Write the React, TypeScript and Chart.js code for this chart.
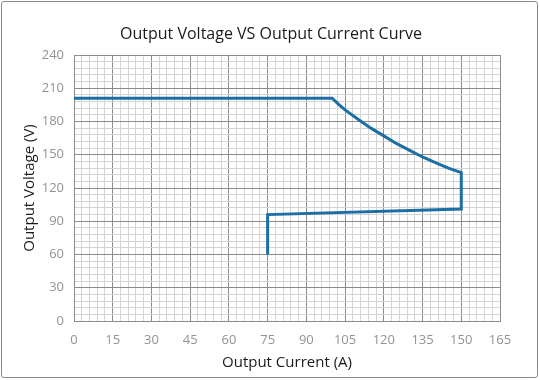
import React, { useEffect, useRef } from "react";
import { Chart, registerables } from "chart.js";

Chart.register(...registerables);

const currentA = [0, 100, 102.5, 105, 110, 115, 120, 125, 130, 135, 140, 145, 150, 150, 75, 75];
const voltageV = [201, 201, 195.5, 190.5, 182, 174, 167, 160, 154, 148, 143, 138, 134, 101, 96, 60];

const xMajorTicks = [0, 15, 30, 45, 60, 75, 90, 105, 120, 135, 150, 165];
const yMajorTicks = [0, 30, 60, 90, 120, 150, 180, 210, 240];

const titleText = "Output Voltage VS Output Current Curve";
const xTitle = "Output Current (A)";
const yTitle = "Output Voltage (V)";

const titlePlugin = {
  id: "centerTitle",
  afterDraw(chart: any) {
    const ctx = chart.ctx;
    ctx.save();
    ctx.font = "16px 'Open Sans', sans-serif";
    ctx.fillStyle = "#1a1a1a";
    ctx.textAlign = "center";
    ctx.textBaseline = "middle";
    ctx.fillText(titleText, 271, 34);
    ctx.restore();
  },
};

export default function App() {
  const ref = useRef<HTMLCanvasElement | null>(null);

  useEffect(() => {
    if (!ref.current) return;
    const points = currentA.map((x, i) => ({ x, y: voltageV[i] }));
    const major = "#8c8c8c";
    const minor = "#d4d4d4";
    const tickFont = { family: "'Open Sans', sans-serif", size: 13, lineHeight: 1 };
    const chart = new Chart(ref.current, {
      type: "scatter",
      data: {
        datasets: [
          {
            data: points,
            showLine: true,
            borderColor: "#1c6ea4",
            borderWidth: 3,
            pointRadius: 0,
            fill: false,
            tension: 0,
          },
        ],
      },
      plugins: [titlePlugin],
      options: {
        animation: false,
        responsive: false,
        maintainAspectRatio: false,
        layout: { padding: { left: 21, right: 40, top: 55, bottom: 8 } },
        plugins: {
          legend: { display: false },
          tooltip: { enabled: false },
          title: { display: false },
        },
        scales: {
          x: {
            type: "linear",
            min: 0,
            max: 165,
            border: { display: true, color: major, width: 1 },
            ticks: {
              stepSize: 3,
              autoSkip: false,
              maxRotation: 0,
              color: "#939393",
              font: tickFont,
              padding: 13,
              callback: (v: any) => (xMajorTicks.includes(Number(v)) ? String(v) : ""),
            },
            grid: {
              drawTicks: false,
              color: (ctx: any) => (ctx.tick && xMajorTicks.includes(ctx.tick.value) ? major : minor),
              lineWidth: 1,
            },
            title: {
              display: true,
              text: xTitle,
              color: "#1a1a1a",
              font: { family: "'Open Sans', sans-serif", size: 15 },
              padding: { top: -6, bottom: 0 },
            },
          },
          y: {
            type: "linear",
            min: 0,
            max: 240,
            border: { display: true, color: major, width: 1 },
            afterFit: (scale: any) => {
              scale.width = 53;
            },
            ticks: {
              stepSize: 6,
              autoSkip: false,
              color: "#939393",
              font: tickFont,
              padding: 10,
              callback: (v: any) => (yMajorTicks.includes(Number(v)) ? String(v) : ""),
            },
            grid: {
              drawTicks: false,
              color: (ctx: any) => (ctx.tick && yMajorTicks.includes(ctx.tick.value) ? major : minor),
              lineWidth: 1,
            },
            title: {
              display: true,
              text: yTitle,
              color: "#1a1a1a",
              font: { family: "'Open Sans', sans-serif", size: 15 },
              padding: { top: 0, bottom: 2 },
            },
          },
        },
      },
    });
    return () => chart.destroy();
  }, []);

  return (
    <div
      style={{
        position: "fixed",
        left: 0,
        top: 0,
        width: 540,
        height: 380,
        background: "#fff",
      }}
    >
      <canvas ref={ref} width={540} height={380} style={{ display: "block" }} />
      <div
        style={{
          position: "absolute",
          left: 1,
          top: 1,
          width: 537,
          height: 377,
          border: "1px solid #8a8a8a",
          borderRadius: 3,
          boxSizing: "border-box",
          pointerEvents: "none",
        }}
      />
    </div>
  );
}
